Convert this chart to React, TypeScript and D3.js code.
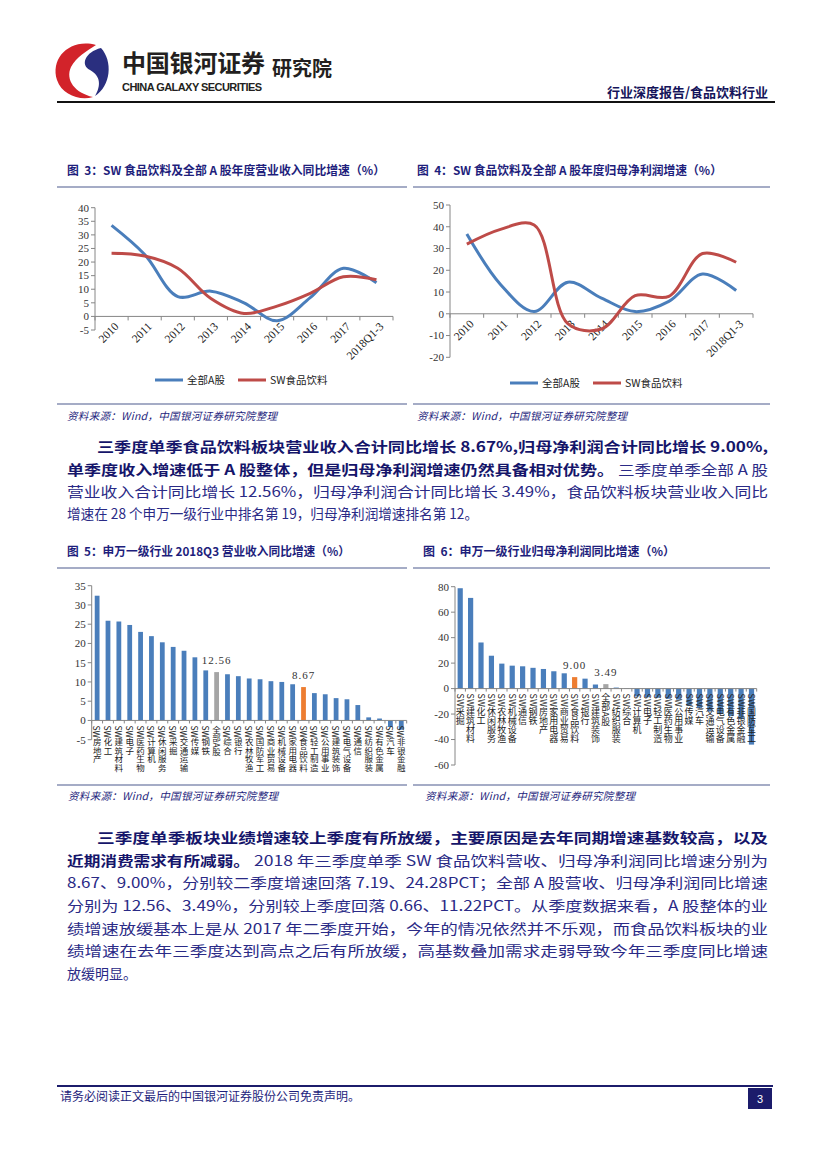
import * as d3 from "d3";

// ---- data ----
const years = ["2010", "2011", "2012", "2013", "2014", "2015", "2016", "2017", "2018Q1-3"];
const revenueAllA = [33.5, 22.8, 7.3, 9.3, 5.0, -1.6, 6.9, 17.7, 12.4];
const revenueFood = [23.2, 22.2, 17.7, 6.6, 1.1, 3.8, 8.5, 14.6, 13.5];
const profitAllA = [36.7, 13.5, 1.0, 14.5, 7.2, 1.0, 5.7, 18.3, 10.7];
const profitFood = [32.0, 38.8, 40.8, -4.5, -7.0, 8.3, 8.0, 27.7, 23.7];
const seriesNames = ["全部A股", "SW食品饮料"];

const revenueIndustries = [
  "SW房地产", "SW化工", "SW建筑材料", "SW电子", "SW医药生物", "SW计算机", "SW休闲服务", "SW采掘",
  "SW交通运输", "SW传媒", "SW钢铁", "全部A股", "SW综合", "SW银行", "SW农林牧渔", "SW国防军工",
  "SW商业贸易", "SW机械设备", "SW家用电器", "SW食品饮料", "SW轻工制造", "SW公用事业", "SW建筑装饰",
  "SW电气设备", "SW通信", "SW纺织服装", "SW有色金属", "SW汽车", "SW非银金融",
];
const revenueGrowth = [
  32.4, 25.9, 25.7, 24.8, 23.0, 21.9, 20.3, 19.1, 18.1, 16.4, 13.0, 12.56, 12.0, 11.5, 10.9, 10.7,
  10.2, 10.0, 9.4, 8.67, 7.1, 6.8, 5.8, 5.5, 4.0, 0.8, 0.5, -1.7, -2.4,
];

const profitIndustries = [
  "SW采掘", "SW建筑材料", "SW化工", "SW休闲服务", "SW农林牧渔", "SW机械设备", "SW通信", "SW钢铁",
  "SW房地产", "SW家用电器", "SW商业贸易", "SW食品饮料", "SW银行", "SW建筑装饰", "全部A股", "SW纺织服装",
  "SW综合", "SW计算机", "SW电子", "SW轻工制造", "SW医药生物", "SW公用事业", "SW传媒", "SW汽车",
  "SW交通运输", "SW电气设备", "SW有色金属", "SW非银金融", "SW国防军工",
];
const profitGrowth = [
  78.8, 71.2, 36.2, 25.8, 19.6, 18.0, 17.5, 16.3, 15.4, 13.6, 12.0, 9.0, 7.8, 3.2, 3.49, 0.8,
  -0.3, -6.2, -6.8, -7.2, -8.0, -8.7, -13.4, -15.2, -18.0, -20.0, -21.6, -24.0, -44.0,
];

const CJK = '"Noto Sans CJK SC", "Noto Sans", sans-serif';
const NUM = '"Liberation Serif", "DejaVu Serif", serif';
const NAVY = "#1e1e7c";
const BLUE = "#4a7ebb";
const RED = "#be4b48";
const GRAY = "#a5a5a5";
const ORANGE = "#ed7d31";
const AXIS = "#868686";
const RULE = "#8790b3";

type LineProps = {
  left: number; right: number; top: number; bottom: number;
  min: number; max: number; step: number;
  a: number[]; b: number[];
  legendY: number; legendX: [number, number];
};

const LineChart = (p: LineProps) => {
  const x = d3.scaleBand<string>().domain(years).range([p.left, p.right]);
  const y = d3.scaleLinear().domain([p.min, p.max]).range([p.bottom, p.top]);
  const ticks = d3.range(p.min, p.max + p.step / 2, p.step);
  const cx = (i: number) => (x(years[i]) as number) + x.bandwidth() / 2;
  const line = d3
    .line<number>()
    .x((_, i) => cx(i))
    .y((d) => y(d))
    .curve(d3.curveCatmullRom.alpha(0.5));
  const y0 = y(0);
  return (
    <g>
      <line x1={p.left} x2={p.left} y1={p.top} y2={p.bottom} stroke={AXIS} />
      {ticks.map((t) => (
        <g key={t}>
          <line x1={p.left - 4} x2={p.left} y1={y(t)} y2={y(t)} stroke={AXIS} />
          <text x={p.left - 6} y={y(t)} dy="0.35em" textAnchor="end" fontFamily={NUM} fontSize={11} fill="#333">
            {t < 0 ? `-${-t}` : t}
          </text>
        </g>
      ))}
      <line x1={p.left} x2={p.right} y1={y0} y2={y0} stroke={AXIS} />
      {d3.range(years.length + 1).map((i) => {
        const xx = p.left + i * x.step();
        return <line key={i} x1={xx} x2={xx} y1={y0} y2={y0 + 4} stroke={AXIS} />;
      })}
      {years.map((c, i) => (
        <text
          key={c}
          transform={`translate(${cx(i) + 5},${y0 + 8}) rotate(-45)`}
          textAnchor="end"
          dy="0.35em"
          fontFamily={NUM}
          fontSize={11.5}
          fill="#222"
        >
          {c}
        </text>
      ))}
      <path d={line(p.a) || ""} stroke={BLUE} strokeWidth={3} fill="none" />
      <path d={line(p.b) || ""} stroke={RED} strokeWidth={3} fill="none" />
      {[BLUE, RED].map((col, i) => (
        <g key={col}>
          <line x1={p.legendX[i]} x2={p.legendX[i] + 28} y1={p.legendY} y2={p.legendY} stroke={col} strokeWidth={3} />
          <text x={p.legendX[i] + 32} y={p.legendY} dy="0.35em" fontFamily={CJK} fontSize={10.5} fill="#222">
            {seriesNames[i]}
          </text>
        </g>
      ))}
    </g>
  );
};

type BarProps = {
  left: number; right: number; top: number; bottom: number;
  min: number; max: number; step: number;
  cats: string[]; vals: number[]; font: number; pad: number;
};

const BarChart = (p: BarProps) => {
  const x = d3.scaleBand<string>().domain(p.cats).range([p.left, p.right]).paddingInner(p.pad).paddingOuter(p.pad / 2);
  const y = d3.scaleLinear().domain([p.min, p.max]).range([p.bottom, p.top]);
  const ticks = d3.range(p.min, p.max + p.step / 2, p.step);
  const y0 = y(0);
  const colour = (c: string) => (c === "全部A股" ? GRAY : c === "SW食品饮料" ? ORANGE : BLUE);
  const fmt = d3.format(".2f");
  return (
    <g>
      <line x1={p.left} x2={p.left} y1={p.top} y2={p.bottom} stroke={AXIS} />
      {ticks.map((t) => (
        <g key={t}>
          <line x1={p.left - 4} x2={p.left} y1={y(t)} y2={y(t)} stroke={AXIS} />
          <text x={p.left - 6} y={y(t)} dy="0.35em" textAnchor="end" fontFamily={NUM} fontSize={11} fill="#333">
            {t < 0 ? `-${-t}` : t}
          </text>
        </g>
      ))}
      {p.cats.map((c, i) => {
        const v = p.vals[i];
        return (
          <rect key={c} x={x(c) as number} width={x.bandwidth()} y={Math.min(y(v), y0)} height={Math.abs(y(v) - y0)} fill={colour(c)} />
        );
      })}
      <line x1={p.left} x2={p.right} y1={y0} y2={y0} stroke={AXIS} />
      {d3.range(p.cats.length + 1).map((i) => {
        const xx = p.left + i * x.step();
        return <line key={i} x1={xx} x2={xx} y1={y0} y2={y0 + 3} stroke={AXIS} />;
      })}
      {p.cats.map((c) => (
        <text
          key={c}
          x={(x(c) as number) + x.bandwidth() / 2}
          y={y0 + 5}
          style={{ writingMode: "vertical-rl" }}
          fontFamily={CJK}
          fontSize={p.font}
          fill="#222"
        >
          {c}
        </text>
      ))}
      {p.cats.map((c, i) =>
        colour(c) !== BLUE ? (
          <text
            key={"v" + c}
            x={(x(c) as number) + x.bandwidth() / 2}
            y={y(p.vals[i]) - 8}
            textAnchor="middle"
            fontFamily={NUM}
            fontSize={11}
            letterSpacing={1}
            fill="#333"
          >
            {fmt(p.vals[i])}
          </text>
        ) : null
      )}
    </g>
  );
};

type Seg = { t: string; b?: boolean; x0: number; x1?: number };
const para1: { y: number; segs: Seg[] }[] = [
  { y: 452, segs: [{ t: "三季度单季食品饮料板块营业收入合计同比增长 8.67%,归母净利润合计同比增长 9.00%,", b: true, x0: 97, x1: 768 }] },
  {
    y: 475,
    segs: [
      { t: "单季度收入增速低于 A 股整体，但是归母净利润增速仍然具备相对优势。", b: true, x0: 67, x1: 614 },
      { t: "三季度单季全部 A 股", x0: 618, x1: 768 },
    ],
  },
  { y: 497, segs: [{ t: "营业收入合计同比增长 12.56%，归母净利润合计同比增长 3.49%，食品饮料板块营业收入同比", x0: 67, x1: 768 }] },
  { y: 519, segs: [{ t: "增速在 28 个申万一级行业中排名第 19，归母净利润增速排名第 12。", x0: 67, x1: 478 }] },
];
const para2: { y: number; segs: Seg[] }[] = [
  { y: 843, segs: [{ t: "三季度单季板块业绩增速较上季度有所放缓，主要原因是去年同期增速基数较高，以及", b: true, x0: 97, x1: 768 }] },
  {
    y: 866,
    segs: [
      { t: "近期消费需求有所减弱。", b: true, x0: 67, x1: 250 },
      { t: "2018 年三季度单季 SW 食品饮料营收、归母净利润同比增速分别为", x0: 254, x1: 768 },
    ],
  },
  { y: 888, segs: [{ t: "8.67、9.00%，分别较二季度增速回落 7.19、24.28PCT；全部 A 股营收、归母净利润同比增速", x0: 67, x1: 768 }] },
  { y: 911, segs: [{ t: "分别为 12.56、3.49%，分别较上季度回落 0.66、11.22PCT。从季度数据来看，A 股整体的业", x0: 67, x1: 768 }] },
  { y: 934, segs: [{ t: "绩增速放缓基本上是从 2017 年二季度开始，今年的情况依然并不乐观，而食品饮料板块的业", x0: 67, x1: 768 }] },
  { y: 956, segs: [{ t: "绩增速在去年三季度达到高点之后有所放缓，高基数叠加需求走弱导致今年三季度同比增速", x0: 67, x1: 768 }] },
  { y: 979, segs: [{ t: "放缓明显。", x0: 67 }] },
];

const Paragraph = ({ lines }: { lines: { y: number; segs: Seg[] }[] }) => (
  <g>
    {lines.map((l) =>
      l.segs.map((s, i) => (
        <text
          key={l.y + "-" + i}
          x={s.x0}
          y={l.y}
          fontFamily={CJK}
          fontSize={14}
          fontWeight={s.b ? 700 : 400}
          fill={s.b ? "#15156a" : "#2a2a86"}
          textLength={s.x1 ? s.x1 - s.x0 : undefined}
          lengthAdjust="spacingAndGlyphs"
        >
          {s.t}
        </text>
      ))
    )}
  </g>
);

const FigTitle = ({ x, y, num, text, w }: { x: number; y: number; num: number; text: string; w: number }) => (
  <text x={x} y={y} dy="0.35em" fontFamily={CJK} fontSize={12} fontWeight={700} fill={NAVY} textLength={w} lengthAdjust="spacingAndGlyphs">
    {`图\u00a0\u00a0${num}：${text}`}
  </text>
);

const Source = ({ x, y }: { x: number; y: number }) => (
  <text x={x} y={y} dy="0.35em" fontFamily={CJK} fontSize={10.5} fontStyle="italic" fill={NAVY} textLength={210}>
    资料来源：Wind，中国银河证券研究院整理
  </text>
);

const App = () => (
  <svg width={827} height={1169} style={{ position: "absolute", left: 0, top: 0, background: "#fff" }}>
    {/* header */}
    <path d="M96,45 C70,38 50,58 57,80 C62,95 80,101 93,97 C75,93 65,80 71,67 C76,57 87,51 96,45 Z" fill="#d2232a" />
    <path d="M101,48 C113,61 111,86 95,96 C101,86 101,76 90,70 C80,65 85,52 101,48 Z" fill="#2a2f7f" />
    <text x={122} y={72} fontFamily={CJK} fontSize={24} fontWeight={700} fill="#231f20" textLength={143}>
      中国银河证券
    </text>
    <text x={122} y={91} fontFamily='"Liberation Sans", Arial, sans-serif' fontSize={11} fontWeight={700} fill="#231f20" textLength={140}>
      CHINA GALAXY SECURITIES
    </text>
    <text x={272} y={76} fontFamily={CJK} fontSize={20} fontWeight={700} fill="#231f20">
      研究院
    </text>
    <text x={768} y={97} textAnchor="end" fontFamily={CJK} fontSize={13} fontWeight={700} fill="#14145a">
      行业深度报告/食品饮料行业
    </text>
    <line x1={57} x2={775} y1={102} y2={102} stroke="#111" strokeWidth={2} />

    {/* figure 3 & 4 */}
    <FigTitle x={67} y={171} num={3} w={318} text="SW 食品饮料及全部 A 股年度营业收入同比增速（%）" />
    <FigTitle x={417} y={171} num={4} w={305} text="SW 食品饮料及全部 A 股年度归母净利润增速（%）" />
    <line x1={57} x2={407} y1={187} y2={187} stroke={RULE} strokeWidth={1.5} />
    <line x1={413} x2={770} y1={187} y2={187} stroke={RULE} strokeWidth={1.5} />
    <LineChart
      left={95} right={393} top={207.7} bottom={330} min={-5} max={40} step={5}
      a={revenueAllA} b={revenueFood} legendY={380} legendX={[155, 238]}
    />
    <LineChart
      left={450} right={753} top={205} bottom={357.3} min={-20} max={50} step={10}
      a={profitAllA} b={profitFood} legendY={383} legendX={[510, 593]}
    />
    <line x1={57} x2={407} y1={404} y2={404} stroke={RULE} strokeWidth={1.5} />
    <line x1={413} x2={770} y1={404} y2={404} stroke={RULE} strokeWidth={1.5} />
    <Source x={67} y={416} />
    <Source x={417} y={416} />

    <Paragraph lines={para1} />

    {/* figure 5 & 6 */}
    <FigTitle x={67} y={552} num={5} w={283} text="申万一级行业 2018Q3 营业收入同比增速（%）" />
    <FigTitle x={423} y={552} num={6} w={252} text="申万一级行业归母净利润同比增速（%）" />
    <line x1={57} x2={407} y1={568} y2={568} stroke={RULE} strokeWidth={1.5} />
    <line x1={413} x2={770} y1={568} y2={568} stroke={RULE} strokeWidth={1.5} />
    <BarChart
      left={91.7} right={406.7} top={585.7} bottom={739.7} min={-5} max={35} step={5}
      cats={revenueIndustries} vals={revenueGrowth} font={8.5} pad={0.56}
    />
    <BarChart
      left={455} right={756.7} top={586.7} bottom={765} min={-60} max={80} step={20}
      cats={profitIndustries} vals={profitGrowth} font={9} pad={0.5}
    />
    <line x1={57} x2={407} y1={785} y2={785} stroke={RULE} strokeWidth={1.5} />
    <line x1={413} x2={770} y1={785} y2={785} stroke={RULE} strokeWidth={1.5} />
    <Source x={68} y={796} />
    <Source x={425} y={796} />

    <Paragraph lines={para2} />

    {/* footer */}
    <line x1={57} x2={773} y1={1086} y2={1086} stroke="#1c1c6b" strokeWidth={2} />
    <text x={60} y={1097} dy="0.35em" fontFamily={CJK} fontSize={12} fill={NAVY}>
      请务必阅读正文最后的中国银河证券股份公司免责声明。
    </text>
    <rect x={748} y={1088} width={24} height={21} fill="#1c1c6b" />
    <text x={760} y={1099} dy="0.35em" textAnchor="middle" fontFamily='"Liberation Sans", Arial, sans-serif' fontSize={11} fill="#fff">
      3
    </text>
  </svg>
);

export default App;
